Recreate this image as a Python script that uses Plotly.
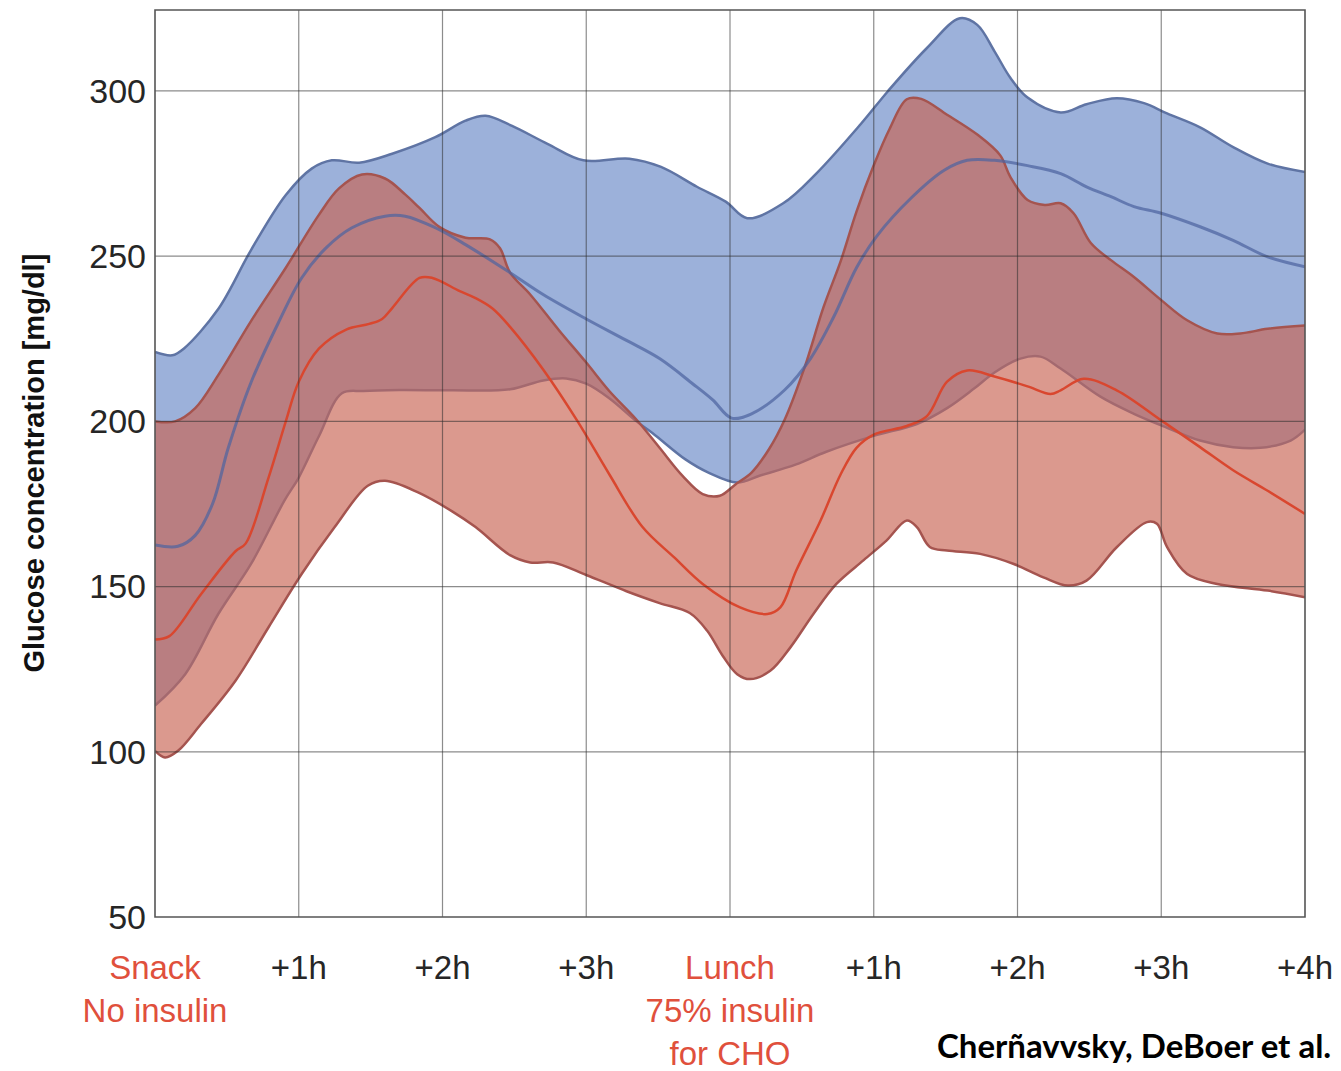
import plotly.graph_objects as go

# Time axis in hours from the snack (0) through lunch (4) to +4h after lunch (8)
tick_hours = [0, 1, 2, 3, 4, 5, 6, 7, 8]
tick_labels = [
    "<span style='color:#e0503c'>Snack</span><br><span style='color:#e0503c'>No insulin</span>",
    "+1h", "+2h", "+3h",
    "<span style='color:#e0503c'>Lunch</span><br><span style='color:#e0503c'>75% insulin</span><br><span style='color:#e0503c'>for CHO</span>",
    "+1h", "+2h", "+3h", "+4h",
]
glucose_ticks = [50, 100, 150, 200, 250, 300]

# Blue group: upper / lower envelope and median (mg/dl)
blue_upper_t = [0.0, 0.12, 0.2, 0.44, 0.67, 0.91, 1.09, 1.23, 1.42, 1.65, 1.95, 2.16, 2.3, 2.48,
                2.73, 2.98, 3.3, 3.52, 3.77, 3.97, 4.12, 4.37, 4.6, 4.91, 5.1, 5.37, 5.6, 5.72,
                5.84, 5.95, 6.07, 6.3, 6.48, 6.69, 6.88, 7.04, 7.27, 7.5, 7.74, 8.0]
blue_upper = [221, 220, 222, 234, 252, 268.5, 276.5, 279, 278.3, 281, 286, 291, 292.5, 289.5,
              284, 279, 279.5, 277, 271, 266.5, 261.5, 266, 275, 290, 300, 313, 322, 320,
              312, 304, 298, 293.5, 296, 297.8, 296.3, 293.2, 289, 283, 278, 275.5]

blue_lower_t = [0.0, 0.21, 0.44, 0.67, 0.9, 1.0, 1.14, 1.3, 1.45, 1.7, 2.06, 2.47, 2.7, 2.86,
                3.0, 3.16, 3.35, 3.46, 3.69, 3.85, 4.05, 4.21, 4.46, 4.67, 5.0, 5.3, 5.51,
                5.7, 5.84, 6.02, 6.16, 6.3, 6.58, 6.81, 7.0, 7.27, 7.5, 7.69, 7.9, 8.0]
blue_lower = [114, 123.5, 141.7, 157, 176, 183, 195.5, 208.5, 209.2, 209.5, 209.4, 209.7, 212.4, 213,
              211.4, 207, 200, 196.5, 188.5, 184.5, 181.5, 183.6, 187, 190.8, 195.6, 199.2, 204,
              210, 214.8, 219, 219.6, 216, 207.4, 202.3, 198.8, 194.2, 192.2, 192, 194.2, 197.5]

blue_median_t = [0.0, 0.16, 0.28, 0.4, 0.51, 0.67, 0.86, 1.02, 1.19, 1.37, 1.6, 1.74, 1.95, 2.16,
                 2.47, 2.7, 3.0, 3.28, 3.51, 3.74, 3.88, 4.01, 4.15, 4.38, 4.56, 4.72, 4.88,
                 5.02, 5.26, 5.49, 5.65, 5.84, 6.07, 6.3, 6.48, 6.65, 6.81, 7.0, 7.27, 7.5,
                 7.74, 8.0]
blue_median = [162.6, 162.2, 165.5, 175, 192, 212, 230, 243.4, 252.5, 258.6, 262.1, 262.1, 258.6, 253.5,
               245, 238.4, 231, 224.5, 219, 211.4, 206.5, 201, 202.3, 209.5, 219, 231.5, 246.5,
               256, 267.6, 276, 279, 279, 277.4, 275, 271, 268, 265, 263, 258.9, 254.8,
               249.8, 246.8]

# Red group: upper / lower envelope and median (mg/dl)
red_upper_t = [0.0, 0.14, 0.28, 0.44, 0.67, 0.91, 1.14, 1.28, 1.44, 1.6, 1.74, 1.84, 1.98, 2.16,
               2.33, 2.4, 2.47, 2.61, 2.81, 3.0, 3.16, 3.35, 3.51, 3.67, 3.81, 3.93, 4.04, 4.15,
               4.27, 4.38, 4.52, 4.65, 4.77, 4.88, 5.0, 5.11, 5.23, 5.33, 5.51, 5.72, 5.88, 5.95,
               6.07, 6.19, 6.3, 6.39, 6.51, 6.65, 6.81, 7.0, 7.18, 7.39, 7.55, 7.74, 8.0]
red_upper = [200, 200, 204, 214, 230.5, 246.5, 262.5, 270.5, 274.7, 273.5, 268.7, 264.6, 258.8, 255.6,
             255.1, 252.4, 245, 238.4, 227.6, 217.8, 209.2, 200.5, 192, 183.5, 178, 177.5, 181, 184.5,
             191.5, 200.5, 216.5, 234.5, 248.5, 263.5, 277.5, 288.5, 297.5, 297.6, 292.8, 286.8, 280.5, 274,
             267, 265.5, 266, 263, 254, 248.8, 243.7, 236.7, 230.6, 226.6, 226.6, 228, 229]

red_lower_t = [0.0, 0.07, 0.16, 0.32, 0.56, 0.79, 1.02, 1.25, 1.48, 1.6, 1.83, 2.07, 2.23, 2.47,
               2.61, 2.77, 3.0, 3.28, 3.51, 3.72, 3.84, 3.95, 4.05, 4.14, 4.28, 4.42, 4.58, 4.74,
               4.93, 5.09, 5.23, 5.3, 5.39, 5.51, 5.74, 5.97, 6.18, 6.35, 6.48, 6.69, 6.9, 6.97,
               7.04, 7.18, 7.39, 7.74, 8.0]
red_lower = [100.3, 98.3, 100.3, 108.4, 121.5, 137.7, 153.8, 168, 180.5, 182, 178.5, 172.7, 168, 159.5,
             157.3, 157.3, 153.5, 148.6, 145, 142, 136.7, 129, 123.5, 122, 124.5, 131.6, 141.7, 150.8,
             158, 164, 170, 168, 162, 160.9, 159.9, 156.9, 152.8, 150.3, 151.8, 161.9, 169.5, 169,
             162, 153.8, 150.8, 148.8, 146.8]

red_median_t = [0.0, 0.1, 0.32, 0.56, 0.63, 0.79, 0.91, 1.0, 1.14, 1.33, 1.49, 1.58, 1.65, 1.84,
                1.93, 2.12, 2.23, 2.35, 2.47, 2.7, 2.94, 3.16, 3.39, 3.61, 3.81, 4.07, 4.26, 4.35,
                4.46, 4.63, 4.77, 4.88, 5.0, 5.23, 5.37, 5.51, 5.65, 5.84, 6.07, 6.23, 6.3, 6.46,
                6.69, 7.0, 7.27, 7.5, 7.74, 8.0]
red_median = [134, 135, 147.7, 160.7, 163, 183, 200, 212, 222, 227.8, 229.5, 231, 234.3, 243.4,
              243.4, 239.4, 237.3, 234.1, 228.6, 215.7, 200, 184, 168.1, 158.9, 150.8, 143.7, 141.7, 143.7,
              154.8, 170, 184, 192, 196, 198.6, 201.6, 212, 215.4, 213.6, 210.6, 208.3, 209.4, 212.9,
              209.4, 200.3, 192.2, 185.2, 179, 172]

BLUE_FILL = "#9cb1da"
BLUE_EDGE = "#5f74a4"
RED_FILL = "rgba(200,100,84,0.66)"
RED_EDGE = "#a5544f"
RED_MEDIAN = "#d9472f"
BLUE_MEDIAN = "rgba(78,100,160,0.72)"

fig = go.Figure()

# Blue envelope (opaque)
fig.add_trace(go.Scatter(x=blue_lower_t, y=blue_lower, mode="lines",
                         line=dict(color=BLUE_EDGE, width=2.5, shape="spline", smoothing=1.0),
                         hoverinfo="skip", showlegend=False))
fig.add_trace(go.Scatter(x=blue_upper_t, y=blue_upper, mode="lines", fill="tonexty",
                         fillcolor=BLUE_FILL,
                         line=dict(color=BLUE_EDGE, width=2.5, shape="spline", smoothing=1.0),
                         hoverinfo="skip", showlegend=False))

# Red envelope (translucent, overlapping part turns mauve)
fig.add_trace(go.Scatter(x=red_lower_t, y=red_lower, mode="lines",
                         line=dict(color=RED_EDGE, width=2.5, shape="spline", smoothing=1.0),
                         hoverinfo="skip", showlegend=False))
fig.add_trace(go.Scatter(x=red_upper_t, y=red_upper, mode="lines", fill="tonexty",
                         fillcolor=RED_FILL,
                         line=dict(color=RED_EDGE, width=2.5, shape="spline", smoothing=1.0),
                         hoverinfo="skip", showlegend=False))

# Medians
fig.add_trace(go.Scatter(x=blue_median_t, y=blue_median, mode="lines",
                         line=dict(color=BLUE_MEDIAN, width=3, shape="spline", smoothing=1.0),
                         hoverinfo="skip", showlegend=False))
fig.add_trace(go.Scatter(x=red_median_t, y=red_median, mode="lines",
                         line=dict(color=RED_MEDIAN, width=2.5, shape="spline", smoothing=1.0),
                         hoverinfo="skip", showlegend=False))

# Grid drawn over the bands
grid = dict(color="rgba(45,45,45,0.55)", width=1.2)
shapes = []
for h in tick_hours[1:-1]:
    shapes.append(dict(type="line", xref="x", yref="paper", x0=h, x1=h, y0=0, y1=1,
                       line=grid, layer="above"))
for g in glucose_ticks[1:]:
    shapes.append(dict(type="line", xref="paper", yref="y", x0=0, x1=1, y0=g, y1=g,
                       line=grid, layer="above"))
shapes.append(dict(type="rect", xref="paper", yref="paper", x0=0, x1=1, y0=0, y1=1,
                   line=dict(color="#555555", width=1.6), layer="above"))

x_tick_font = dict(family="Liberation Sans, Arial, sans-serif", size=33, color="#262626")
y_tick_font = dict(family="Liberation Sans, Arial, sans-serif", size=34, color="#262626")

fig.update_layout(
    width=1341, height=1071,
    margin=dict(l=155, r=36, t=10, b=154),
    paper_bgcolor="white", plot_bgcolor="white",
    shapes=shapes,
    xaxis=dict(range=[0, 8], tickvals=tick_hours, ticktext=tick_labels,
               showgrid=False, zeroline=False, showline=False, ticks="",
               tickfont=x_tick_font, ticklabelstandoff=28, fixedrange=True,
               automargin=False),
    yaxis=dict(range=[50, 324.5], tickvals=glucose_ticks,
               showgrid=False, zeroline=False, showline=False, ticks="",
               tickfont=y_tick_font, ticklabelstandoff=8, fixedrange=True,
               automargin=False),
    annotations=[
        dict(text="<b>Glucose concentration [mg/dl]</b>", xref="paper", yref="paper",
             x=-0.106, y=0.5, xanchor="center", yanchor="middle", textangle=-90,
             showarrow=False,
             font=dict(family="Liberation Sans, Arial, sans-serif", size=29, color="#111111")),
        dict(text="<b>Cherñavvsky, DeBoer et al.</b>", xref="paper", yref="paper",
             x=(935 - 155) / 1150, y=-0.141, xanchor="left", yanchor="middle",
             showarrow=False,
             font=dict(family="Lato, sans-serif", size=33, color="#000000")),
    ],
)

fig.write_html("out.html")
